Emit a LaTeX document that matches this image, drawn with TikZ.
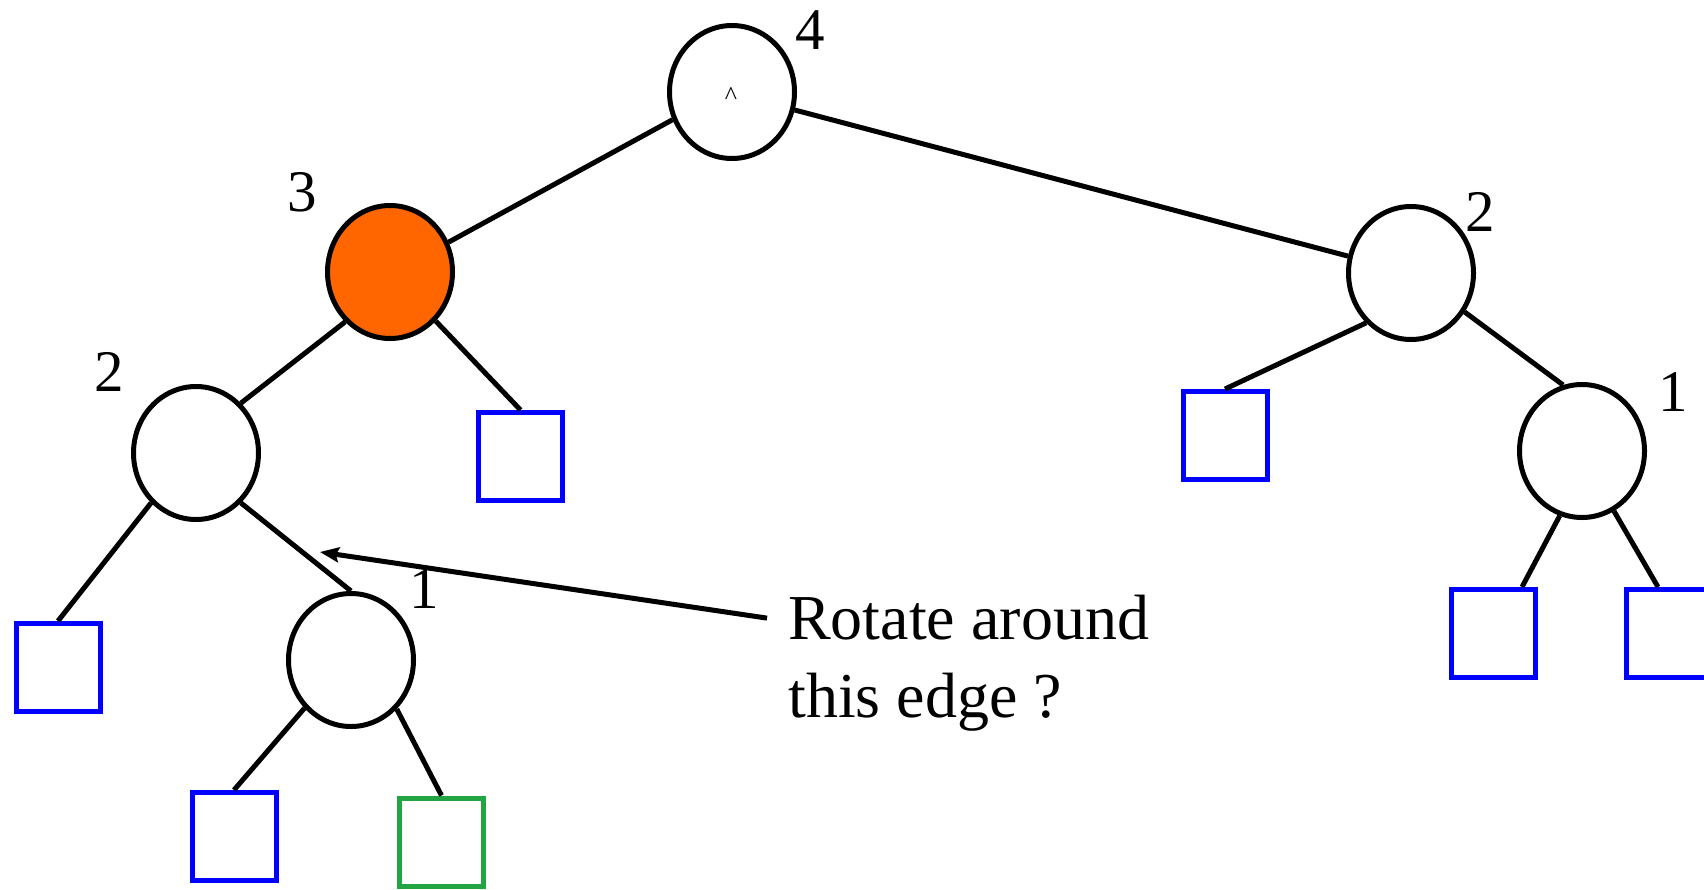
\documentclass[tikz,border=0pt]{standalone}
\usepackage{fontspec}
\setmainfont{Liberation Serif}
\usetikzlibrary{shapes.geometric,arrows.meta}
\definecolor{nodeorange}{RGB}{255,102,0}
\definecolor{leafblue}{RGB}{0,0,255}
\definecolor{leafgreen}{RGB}{34,164,66}
\begin{document}
\begin{tikzpicture}[x=1pt,y=-1pt,
  tnode/.style={ellipse,draw=black,line width=5pt,minimum width=125pt,minimum height=133pt,inner sep=0pt,fill=white},
  leaf/.style={rectangle,draw=leafblue,line width=5pt,minimum width=84pt,minimum height=88pt,inner sep=0pt},
  gleaf/.style={leaf,draw=leafgreen},
  edge/.style={line width=5pt,draw=black},
  num/.style={inner sep=0pt,font=\fontsize{59}{59}\selectfont},
  txt/.style={inner sep=0pt,anchor=base west,font=\fontsize{64}{76}\selectfont},
  arr/.style={line width=5pt,-{Stealth[length=19pt,width=15pt,inset=3pt]}}]
\useasboundingbox (0,0) rectangle (1704,889);
\node[tnode] (R) at (732,92) {};
\node[tnode,fill=nodeorange] (O) at (390,272) {};
\node[tnode] (B) at (1411,273) {};
\node[tnode] (C) at (1582,451) {};
\node[tnode] (L) at (196,453) {};
\node[tnode] (D) at (351,660) {};
\node[leaf] (sqL) at (58,667.5) {};
\node[leaf] (sq1) at (520.5,456.5) {};
\node[leaf] (sqDL) at (234,836.5) {};
\node[gleaf] (sqG) at (441.5,842) {};
\node[leaf] (sqB) at (1225,435.5) {};
\node[leaf] (sqC1) at (1493,633.5) {};
\node[leaf] (sqC2) at (1668,633.5) {};
\draw[edge] (R.205) -- (O.27.6);
\draw[edge] (R.-16.2) -- (B.165.4);
\draw[edge] (O.228) -- (L.48);
\draw[edge] (O.-47.3) -- (sq1.north);
\draw[edge] (L.228) -- (sqL.north);
\draw[edge] (L.-48.5) -- (D.north);
\draw[edge] (D.226.8) -- (sqDL.north);
\draw[edge] (D.-47.4) -- (sqG.north);
\draw[edge] (B.228) -- (sqB.north);
\draw[edge] (B.-36.5) -- (C.106.4);
\draw[edge] (C.251.6) -- ([xshift=29pt]sqC1.north);
\draw[edge] (C.-62) -- ([xshift=-10pt]sqC2.north);
% caret in root
\node[inner sep=0pt,anchor=base,font=\fontsize{26}{26}\selectfont] (caret) at (731,104) {\^{}};
% depth labels
\node[num] (n4) at (810,30) {4};
\node[num] (n3) at (302,192) {3};
\node[num] (n2r) at (1480,212) {2};
\node[num] (n1r) at (1673,392) {1};
\node[num] (n2l) at (109,372) {2};
\node[num] (n1l) at (424,589) {1};
% annotation
\node[txt] (t1) at (788,639) {Rotate around};
\node[txt] (t2) at (788,717) {this edge ?};
\coordinate (tip) at (320,552);
\draw[arr] ([xshift=-21pt,yshift=-1pt]t1.west) -- (tip);
\end{tikzpicture}
\end{document}
